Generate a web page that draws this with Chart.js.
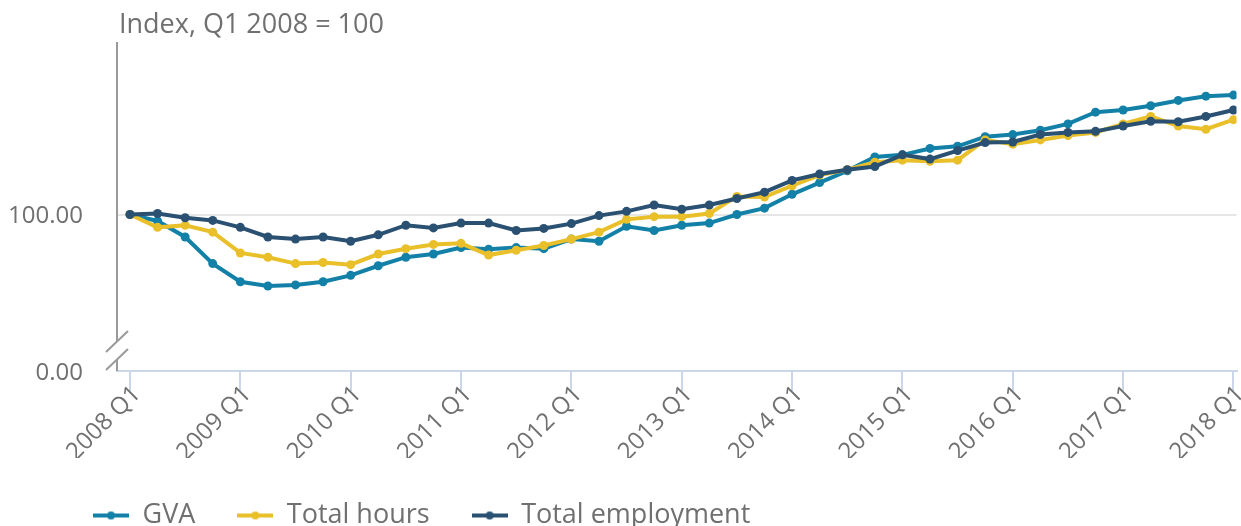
<!DOCTYPE html>
<html>
<head>
<meta charset="utf-8">
<script src="https://cdn.jsdelivr.net/npm/chart.js@4.4.1/dist/chart.umd.min.js"></script>
<style>
  html, body { margin: 0; padding: 0; overflow: hidden; background: #fff; }
</style>
</head>
<body>
<canvas id="chart" width="1241" height="537"></canvas>
<script>
// quarters 2008 Q1 .. 2018 Q1
const years = [2008, 2009, 2010, 2011, 2012, 2013, 2014, 2015, 2016, 2017, 2018];
const quarters = [];
years.forEach(y => {
  for (let q = 1; q <= 4; q++) {
    if (y === 2018 && q > 1) break;
    quarters.push(y + ' Q' + q);
  }
});

// Index, Q1 2008 = 100
const gva = [100.0, 99.4, 97.9, 95.4, 93.7, 93.3, 93.4, 93.7, 94.3, 95.2,
  96.0, 96.3, 96.9, 96.75, 96.9, 96.8, 97.7, 97.5, 98.9, 98.5,
  99.0, 99.2, 100.0, 100.6, 101.9, 103.0, 104.1, 105.4, 105.6, 106.2,
  106.4, 107.3, 107.5, 107.9, 108.5, 109.6, 109.8, 110.2, 110.7, 111.1, 111.2];
const totalHours = [100.0, 98.8, 99.0, 98.35, 96.4, 96.0, 95.4, 95.5, 95.3, 96.3,
  96.8, 97.2, 97.3, 96.2, 96.65, 97.1, 97.7, 98.35, 99.55, 99.8,
  99.8, 100.1, 101.7, 101.65, 102.7, 103.7, 104.2, 104.9, 105.1, 105.0,
  105.1, 107.0, 106.6, 107.0, 107.4, 107.7, 108.5, 109.2, 108.3, 108.0, 108.9];
const totalEmployment = [100.0, 100.1, 99.7, 99.45, 98.8, 97.9, 97.7, 97.9, 97.5, 98.1,
  99.0, 98.75, 99.2, 99.2, 98.5, 98.7, 99.15, 99.9, 100.3, 100.9,
  100.5, 100.9, 101.5, 102.1, 103.2, 103.8, 104.2, 104.5, 105.6, 105.2,
  106.0, 106.75, 106.8, 107.5, 107.7, 107.8, 108.3, 108.75, 108.7, 109.2, 109.8];

const seriesNames = ['GVA', 'Total hours', 'Total employment'];
const seriesColors = ['#1380a8', '#e9c02a', '#2a5072'];
const yearTicks = [0, 4, 8, 12, 16, 20, 24, 28, 32, 36, 40];

const textColor = '#707070';
Chart.defaults.font.family = "'Open Sans', sans-serif";
Chart.defaults.color = textColor;

function toPoints(arr) {
  return arr.map((v, i) => ({ x: i, y: v }));
}

// legend marker: short line with a dot
function marker(color) {
  const c = document.createElement('canvas');
  c.width = 36; c.height = 10;
  const g = c.getContext('2d');
  g.strokeStyle = color; g.lineWidth = 4;
  g.beginPath(); g.moveTo(0, 5); g.lineTo(36, 5); g.stroke();
  g.fillStyle = color;
  g.beginPath(); g.arc(18, 5, 4, 0, Math.PI * 2); g.fill();
  return c;
}

function dataset(i, values, order) {
  return {
    label: seriesNames[i],
    data: toPoints(values),
    borderColor: seriesColors[i],
    backgroundColor: seriesColors[i],
    borderWidth: 4,
    pointRadius: 4.5,
    pointBorderWidth: 0,
    tension: 0,
    order: order
  };
}

// y axis with a break + unit title, legend nudged right
const axisBreak = {
  id: 'axisBreak',
  afterLayout(chart) {
    const lg = chart.legend;
    lg.left += 51; lg.right += 51;
    lg.top += 2; lg.bottom += 2;
  },
  afterDraw(chart) {
    const ctx = chart.ctx;
    const a = chart.chartArea;
    const x = a.left, b = a.bottom;
    ctx.save();
    ctx.strokeStyle = '#9a9a9a';
    ctx.lineWidth = 2;
    ctx.beginPath();
    ctx.moveTo(x, a.top); ctx.lineTo(x, b - 30);
    ctx.moveTo(x, b - 11.5); ctx.lineTo(x, b);
    ctx.moveTo(x - 11, b - 19); ctx.lineTo(x + 11, b - 40);
    ctx.moveTo(x - 11, b - 1); ctx.lineTo(x + 11, b - 22);
    ctx.stroke();
    ctx.fillStyle = textColor;
    ctx.font = "27px 'Open Sans'";
    ctx.textBaseline = 'alphabetic';
    ctx.fillText('Index, Q1 2008 = 100', x + 2, 33);
    ctx.restore();
  }
};

new Chart(document.getElementById('chart'), {
  type: 'line',
  data: {
    datasets: [
      dataset(0, gva, 3),
      dataset(1, totalHours, 2),
      dataset(2, totalEmployment, 1)
    ]
  },
  options: {
    responsive: false,
    animation: false,
    layout: { padding: { left: 0, top: 42, right: 0, bottom: 0 } },
    plugins: {
      tooltip: { enabled: false },
      legend: {
        position: 'bottom',
        align: 'start',
        labels: {
          usePointStyle: true,
          pointStyleWidth: 36,
          padding: 42,
          color: textColor,
          font: { size: 27 },
          sort: (a, b) => a.datasetIndex - b.datasetIndex,
          generateLabels(chart) {
            const items = Chart.defaults.plugins.legend.labels.generateLabels(chart);
            items.forEach(it => { it.pointStyle = marker(seriesColors[it.datasetIndex]); });
            return items;
          }
        }
      }
    },
    scales: {
      x: {
        type: 'linear',
        min: -0.47,
        max: 40.11,
        afterBuildTicks(scale) {
          scale.ticks = yearTicks.map(v => ({ value: v }));
        },
        afterFit(scale) {
          scale.height = 87;
          scale.paddingLeft = 0;
          scale.paddingRight = 0;
        },
        ticks: {
          autoSkip: false,
          minRotation: 45,
          maxRotation: 45,
          padding: -11,
          labelOffset: 7,
          font: { size: 24 },
          color: textColor,
          callback: v => quarters[v]
        },
        grid: { drawOnChartArea: false, drawTicks: true, tickLength: 20, color: '#ccd6eb', lineWidth: 2 },
        border: { color: '#ccd6eb', width: 2 }
      },
      y: {
        min: 85.33,
        max: 116.18,
        afterBuildTicks(scale) {
          scale.ticks = [{ value: scale.min }, { value: 100 }];
        },
        afterFit(scale) {
          scale.width = 117;
          scale.paddingTop = 0;
          scale.paddingBottom = 0;
        },
        ticks: {
          padding: 34,
          labelOffset: 2,
          font: { size: 24 },
          color: textColor,
          callback: v => (v === 100 ? '100.00' : '0.00')
        },
        grid: {
          drawTicks: false,
          lineWidth: 2,
          color: c => (c.tick && c.tick.value === 100 ? '#e6e6e6' : 'rgba(0,0,0,0)')
        },
        border: { display: false }
      }
    }
  },
  plugins: [axisBreak]
});
</script>
</body>
</html>
